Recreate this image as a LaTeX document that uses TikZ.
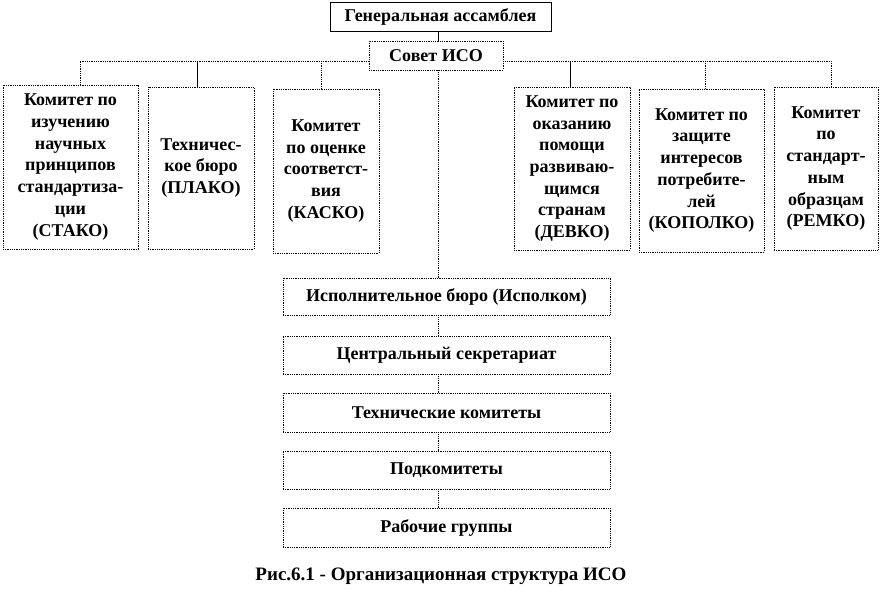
\documentclass[tikz,border=0pt]{standalone}
\usepackage{fontspec}
\setmainfont{Liberation Serif}
\begin{document}
\begin{tikzpicture}[x=1pt,y=-1pt,
  every node/.style={font=\bfseries\fontsize{18}{21.7}\selectfont},
  solidbox/.style={draw, line width=0.7pt, inner sep=0pt, align=center},
  dotbox/.style={draw, densely dotted, line width=0.8pt, inner sep=0pt, align=center},
  dotline/.style={densely dotted, line width=0.8pt},
  solline/.style={line width=0.7pt}]
\useasboundingbox (0,0) rectangle (881,591);
% top
\node[solidbox, minimum width=221pt, minimum height=29pt] (gen) at (440.5,17) {Генеральная ассамблея};
\node[dotbox, minimum width=134pt, minimum height=29pt] (sov) at (436,55.5) {Совет ИСО};
\coordinate (ax) at (438,0);
\draw[solline] (gen.south -| ax) -- (sov.north -| ax);
% committees
\node[dotbox, minimum width=135pt, minimum height=164pt] (c1) at (70.5,167) {Комитет по\\изучению\\научных\\принципов\\стандартиза-\\ции\\(СТАКО)};
\node[dotbox, minimum width=106pt, minimum height=162pt] (c2) at (201,168) {Техничес-\\кое бюро\\(ПЛАКО)};
\node[dotbox, minimum width=106pt, minimum height=164pt] (c3) at (326,171) {Комитет\\по оценке\\соответст-\\вия\\(КАСКО)};
\node[dotbox, minimum width=116pt, minimum height=163pt] (c4) at (572,168.5) {Комитет по\\оказанию\\помощи\\развиваю-\\щимся\\странам\\(ДЕВКО)};
\node[dotbox, minimum width=125pt, minimum height=163pt] (c5) at (701.5,170.5) {Комитет по\\защите\\интересов\\потребите-\\лей\\(КОПОЛКО)};
\node[dotbox, minimum width=104pt, minimum height=163pt] (c6) at (826,168.5) {Комитет\\по\\стандарт-\\ным\\образцам\\(РЕМКО)};
% bus
\coordinate (bL) at (80,61);
\coordinate (bR) at (831,61);
\coordinate (d2) at (197,61);
\coordinate (d3) at (321,61);
\coordinate (d4) at (570,61);
\coordinate (d5) at (705,61);
\draw[dotline] (sov.west |- bL) -- (bL) -- (bL |- c1.north);
\draw[dotline] (sov.east |- bR) -- (bR) -- (bR |- c6.north);
\draw[solline] (d2) -- (d2 |- c2.north);
\draw[dotline] (d3) -- (d3 |- c3.north);
\draw[solline] (d4) -- (d4 |- c4.north);
\draw[dotline] (d5) -- (d5 |- c5.north);
% lower chain
\node[dotbox, minimum width=327pt, minimum height=37pt] (l1) at (446.5,296.5) {Исполнительное бюро (Исполком)};
\node[dotbox, minimum width=327pt, minimum height=38pt] (l2) at (446.5,355) {Центральный секретариат};
\node[dotbox, minimum width=327pt, minimum height=39pt] (l3) at (446.5,412.5) {Технические комитеты};
\node[dotbox, minimum width=327pt, minimum height=38pt] (l4) at (446.5,470) {Подкомитеты};
\node[dotbox, minimum width=327pt, minimum height=39pt] (l5) at (446.5,527.5) {Рабочие группы};
\draw[dotline] (sov.south -| ax) -- (l1.north -| ax);
\draw[dotline] (l1.south -| ax) -- (l2.north -| ax);
\draw[dotline] (l2.south -| ax) -- (l3.north -| ax);
\draw[dotline] (l3.south -| ax) -- (l4.north -| ax);
\draw[dotline] (l4.south -| ax) -- (l5.north -| ax);
% caption
\node[font=\bfseries\fontsize{19}{22}\selectfont] (cap) at (441,576) {Рис.6.1 - Организационная структура ИСО};
\end{tikzpicture}
\end{document}
